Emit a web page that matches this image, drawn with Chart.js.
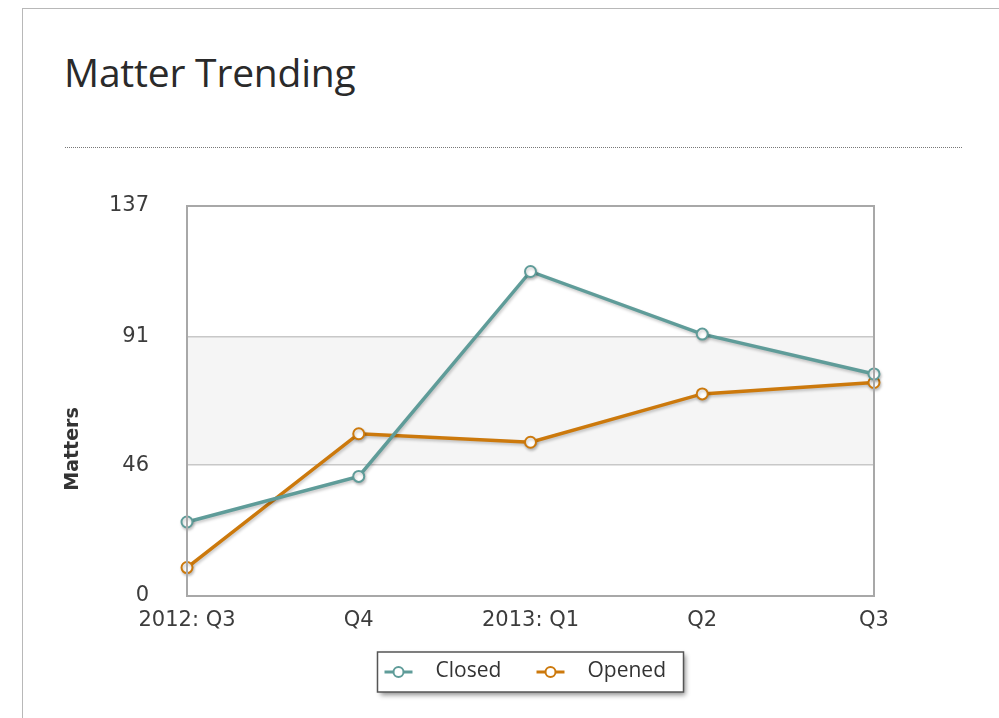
<!DOCTYPE html>
<html>
<head>
<meta charset="utf-8">
<title>Matter Trending</title>
<script src="https://cdn.jsdelivr.net/npm/chart.js@4.4.1/dist/chart.umd.min.js"></script>
<style>
    html, body { margin: 0; padding: 0; background: #fff; overflow: hidden; }
    body { width: 999px; height: 718px; position: relative; }
    .frame {
        position: absolute; left: 22px; top: 8px;
        width: 1000px; height: 800px;
        border: 1.5px solid #b8b8b8;
    }
    .title {
        position: absolute; left: 64px; top: 45px;
        font: 400 39px "Open Sans", sans-serif;
        color: #2a2a2a;
        margin: 0;
        letter-spacing: -0.2px;
    }
    .rule {
        position: absolute; left: 65px; top: 147px; width: 897px;
        border-top: 1.5px dotted #777;
    }
    #chart-wrap { position: absolute; left: 0; top: 0; width: 999px; height: 718px; }
</style>
</head>
<body>
<div class="frame"></div>
<h1 class="title">Matter Trending</h1>
<div class="rule"></div>
<div id="chart-wrap"><canvas id="trend-chart"></canvas></div>

<script>
// ── Data ──────────────────────────────────────────────────────────
const quarters     = ['2012: Q3', 'Q4', '2013: Q1', 'Q2', 'Q3'];
const closedCounts = [26, 42, 114, 92, 78];
const openedCounts = [10, 57, 54, 71, 75];
const yTicks       = [0, 46, 91, 137];
const yAxisLabel   = 'Matters';

const CLOSED_COLOR = '#5f9c99';
const OPENED_COLOR = '#cc790c';
const TICK_FONT    = { family: '"DejaVu Sans", sans-serif', size: 21 };

// ── Shaded band between the two middle gridlines ─────────────────
const bandPlugin = {
    id: 'band',
    beforeDraw(chart) {
        const { ctx, chartArea, scales } = chart;
        const top    = scales.y.getPixelForValue(yTicks[2]);
        const bottom = scales.y.getPixelForValue(yTicks[1]);
        ctx.save();
        ctx.fillStyle = '#f5f5f5';
        ctx.fillRect(chartArea.left, top, chartArea.right - chartArea.left, bottom - top);
        ctx.restore();
    }
};

// ── Soft shadow under the lines ───────────────────────────────────
const shadowPlugin = {
    id: 'lineShadow',
    beforeDatasetsDraw(chart) {
        const ctx = chart.ctx;
        ctx.save();
        ctx.shadowColor   = 'rgba(0,0,0,0.22)';
        ctx.shadowBlur    = 3;
        ctx.shadowOffsetX = 1;
        ctx.shadowOffsetY = 2;
    },
    afterDatasetsDraw(chart) {
        chart.ctx.restore();
    }
};

// ── Plot border + rotated axis label ──────────────────────────────
const framePlugin = {
    id: 'plotFrame',
    afterDatasetsDraw(chart) {
        const { ctx, chartArea } = chart;
        ctx.save();
        ctx.strokeStyle = '#a8a8a8';
        ctx.lineWidth = 2;
        ctx.strokeRect(chartArea.left, chartArea.top,
            chartArea.right - chartArea.left, chartArea.bottom - chartArea.top);

        ctx.translate(chartArea.left - 114, chartArea.bottom - 147);
        ctx.rotate(-Math.PI / 2);
        ctx.fillStyle = '#333';
        ctx.font = 'bold 19px "DejaVu Sans", sans-serif';
        ctx.textAlign = 'center';
        ctx.textBaseline = 'middle';
        ctx.fillText(yAxisLabel, 0, 0);
        ctx.restore();
    }
};

// ── Boxed legend with drop shadow ─────────────────────────────────
const legendBoxPlugin = {
    id: 'legendBox',
    afterDraw(chart) {
        const { ctx, chartArea } = chart;
        const w = 306, h = 40;
        const x = (chartArea.left + chartArea.right) / 2 - w / 2;
        const y = chartArea.bottom + 56;

        ctx.save();
        ctx.shadowColor   = 'rgba(0,0,0,0.45)';
        ctx.shadowBlur    = 5;
        ctx.shadowOffsetX = 2;
        ctx.shadowOffsetY = 3;
        ctx.fillStyle = '#fff';
        ctx.fillRect(x, y, w, h);
        ctx.restore();

        ctx.save();
        ctx.strokeStyle = '#555';
        ctx.lineWidth = 1.5;
        ctx.strokeRect(x, y, w, h);

        const items = chart.data.datasets;
        const offsets = [7, 159];
        ctx.font = '21px "Open Sans", sans-serif';
        ctx.textBaseline = 'middle';
        items.forEach((ds, i) => {
            const mx = x + offsets[i];
            const my = y + h / 2;
            ctx.strokeStyle = ds.borderColor;
            ctx.lineWidth = 3;
            ctx.beginPath();
            ctx.moveTo(mx, my);
            ctx.lineTo(mx + 28, my);
            ctx.stroke();
            ctx.beginPath();
            ctx.arc(mx + 14, my, 5, 0, Math.PI * 2);
            ctx.fillStyle = '#fff';
            ctx.fill();
            ctx.lineWidth = 2;
            ctx.stroke();
            ctx.fillStyle = '#333';
            ctx.fillText(ds.label, mx + 51, my - 1);
        });
        ctx.restore();
    }
};

// ── Chart ─────────────────────────────────────────────────────────
function seriesStyle(color) {
    return {
        borderColor: color,
        backgroundColor: color,
        borderWidth: 3.5,
        tension: 0,
        pointRadius: 5.5,
        pointHoverRadius: 5.5,
        pointBorderWidth: 2,
        pointBorderColor: color,
        pointBackgroundColor: '#fff',
        clip: false
    };
}

new Chart(document.getElementById('trend-chart'), {
    type: 'line',
    data: {
        labels: quarters,
        datasets: [
            { label: 'Closed', data: closedCounts, ...seriesStyle(CLOSED_COLOR) },
            { label: 'Opened', data: openedCounts, ...seriesStyle(OPENED_COLOR) }
        ]
    },
    options: {
        responsive: true,
        maintainAspectRatio: false,
        animation: false,
        layout: { padding: { left: 87, right: 125, top: 206, bottom: 72 } },
        plugins: {
            legend:  { display: false },
            tooltip: { enabled: false }
        },
        scales: {
            x: {
                offset: false,
                grid: { display: false, drawTicks: false },
                border: { display: false },
                ticks: { color: '#3c3c3c', font: TICK_FONT, padding: 12, maxRotation: 0, autoSkip: false },
                afterFit(scale) { scale.height = 50; }
            },
            y: {
                min: 0,
                max: 137,
                grid: { color: '#c8c8c8', lineWidth: 1.5, drawTicks: false },
                border: { display: false },
                ticks: { color: '#3c3c3c', font: TICK_FONT, padding: 38 },
                afterBuildTicks(scale) { scale.ticks = yTicks.map(v => ({ value: v })); },
                afterFit(scale) { scale.width = 100; }
            }
        }
    },
    plugins: [bandPlugin, shadowPlugin, framePlugin, legendBoxPlugin]
});
</script>
</body>
</html>
